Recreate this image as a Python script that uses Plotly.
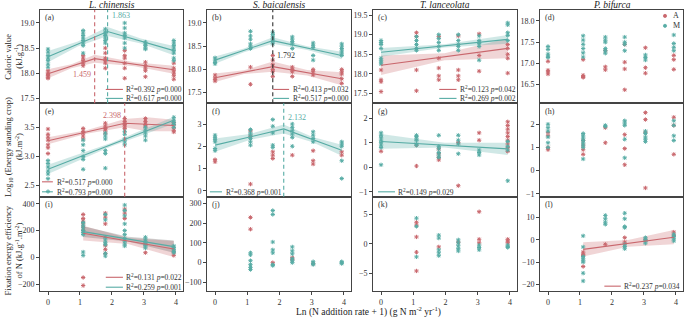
import numpy as np
import plotly.graph_objects as go

# ---------------- data ----------------
LN_N = [0.0, 1.099, 1.792, 2.398, 3.045, 3.932]
X_TICKS = [0, 1, 2, 3, 4]
SPECIES = ["L. chinensis", "S. baicalensis", "T. lanceolata", "P. bifurca"]
PANEL_TAGS = ["(a)", "(b)", "(c)", "(d)", "(e)", "(f)", "(g)", "(h)", "(i)", "(j)", "(k)", "(l)"]
SERIES_NAMES = ["A", "M"]

# Caloric value (kJ/g)
cal_Lc_A = [[18.05, 18.0, 17.98, 17.95, 17.92, 17.9], [18.35, 18.3, 18.25, 18.2, 18.15],
            [18.5, 18.4, 18.3, 18.25, 18.2, 18.1], [18.45, 18.35, 18.3, 18.2, 18.1, 17.9],
            [18.22, 18.15, 18.1, 18.05, 17.93], [18.2, 18.1, 18.05, 18.0, 17.95, 17.88]]
cal_Lc_M = [[18.48, 18.42, 18.35, 18.3, 18.25, 18.18, 18.12], [18.85, 18.8, 18.75, 18.7, 18.65, 18.6, 18.55, 18.4],
            [18.88, 18.82, 18.78, 18.75, 18.7, 18.65, 18.6], [19.0, 18.9, 18.8, 18.75, 18.7, 18.6, 18.5],
            [18.62, 18.58, 18.55, 18.5, 18.48], [18.65, 18.6, 18.55, 18.5, 18.45, 18.4, 18.3, 18.25]]
cal_Sb_A = [[17.88, 17.82, 17.78, 17.75], [18.05, 17.68], [18.3, 18.2, 18.1, 18.0, 17.95, 17.85],
            [18.05, 18.0, 17.95, 17.85], [18.0, 17.95, 17.88], [18.0, 17.95, 17.9, 17.8, 17.7]]
cal_Sb_M = [[18.25, 18.2, 18.15, 18.12], [18.82, 18.72, 18.65, 18.55, 18.5, 18.45],
            [18.8, 18.75, 18.7, 18.65, 18.6, 18.55], [18.7, 18.65, 18.6, 18.55, 18.45],
            [18.57, 18.52, 18.47, 18.3, 18.2], [18.55, 18.5, 18.45, 18.4, 18.35, 18.3]]
cal_Tl_A = [[18.1, 17.85, 17.8, 17.55], [19.05, 18.95, 18.1, 17.57], [18.95, 18.4, 18.15, 17.95, 17.85],
            [18.97, 18.1, 17.95, 17.85], [19.02, 18.47, 18.07], [18.75, 18.65, 18.5, 18.4, 18.02]]
cal_Tl_M = [[18.85, 18.8, 18.75, 18.65, 18.4, 18.35, 18.3, 18.25], [18.95, 18.85, 18.75, 18.65, 18.6],
            [19.0, 18.9, 18.8, 18.7, 18.6], [19.0, 18.85, 18.75, 18.7, 18.6],
            [18.97, 18.85, 18.8, 18.77, 18.7, 18.35], [19.3, 19.25, 19.05, 18.98, 18.85]]
cal_Pb_A = [[17.05, 16.84, 16.8, 16.75], [17.09, 16.72, 16.69, 16.67], [17.3, 16.92, 16.85],
            [17.45, 17.03, 16.87, 16.38], [17.37, 16.9, 16.77], [17.19, 17.09, 16.86]]
cal_Pb_M = [[17.4, 17.33, 17.22, 17.17, 17.14], [17.65, 17.55, 17.45, 17.35, 17.25, 17.15],
            [17.62, 17.55, 17.5, 17.35, 17.3, 17.24], [17.62, 17.5, 17.45, 17.3],
            [17.2, 17.14, 17.08], [17.67, 17.47, 17.38, 17.3]]

# Log10 energy standing crop (kJ/m2)
log_Lc_A = [[3.47, 3.38, 3.33, 3.28, 3.2, 3.15, 3.05], [3.48, 3.43, 3.4, 3.35, 3.3],
            [3.57, 3.52, 3.48, 3.45, 3.4], [3.65, 3.6, 3.55, 3.52, 3.48],
            [3.65, 3.6, 3.55, 3.52], [3.58, 3.55, 3.5, 3.45, 3.42]]
log_Lc_M = [[2.93, 2.88, 2.82, 2.75, 2.7, 2.62, 2.4], [3.28, 3.2, 3.1, 3.0, 2.95, 2.78],
            [3.4, 3.35, 3.3, 3.1, 3.05, 2.8], [3.43, 3.38, 3.3, 3.25, 3.2],
            [3.5, 3.45, 3.4, 3.35, 3.28], [3.67, 3.62, 3.58, 3.55, 3.5]]
log_Sb_A = [[1.4, 1.3], [2.7, 2.45, 0.3], [1.75, 1.6, 1.45], [1.6], [1.8, 1.35, 1.2], [1.75, 1.6]]
log_Sb_M = [[2.5, 2.4, 2.3, 2.2, 1.9, 1.8], [2.75, 2.6, 2.5, 2.35, 2.2, 2.05], [3.2, 2.9, 2.6, 2.05, 1.95],
            [3.0, 2.85, 2.7, 2.55, 2.4, 2.0], [2.65, 2.5, 2.35, 2.2], [2.2, 2.1, 2.0, 1.35, 0.55]]
log_Tl_A = [[0.65], [0.9, 0.05], [0.75, 0.55, 0.4, 0.3], [1.0, -0.75], [1.4, 1.1],
            [1.85, 1.7, 1.55, 1.4, 1.25, 1.1, 0.95, 0.8, 0.65]]
log_Tl_M = [[1.4, 1.3, 1.2, 1.1, 1.0, 0.9, 0.8, 0.1], [1.3, 1.25, 1.15, 1.1, 0.95, 0.9],
            [1.3, 0.85, 0.75, 0.6, 0.5, 0.4], [1.3, 1.1, 0.95, 0.55], [0.7, 0.6, 0.5], [1.05, 0.85, 0.7, -0.55]]
log_Pb_A = [[1.65, 1.5, 1.0, 0.9], [1.3, 1.1, 0.9, 0.7], [1.85, 1.2], [1.55, 0.95, 0.25],
            [2.5, 2.2, 1.65, -0.75], [2.3, 1.95, 0.7]]
log_Pb_M = [[2.0, 1.85, 1.7, 1.45, 1.2, 1.0], [1.6, 1.5, 1.4, 1.3, 1.2, 1.1, 1.0, 0.5], [1.95, 1.9],
            [2.15, 2.05, 1.95, 1.35, 0.55], [1.7, 1.6, 1.45, 1.35, 1.25], [2.15, 1.95, 1.5, 1.3]]

# Fixation energy efficiency of N (kJ g-1 m-2)
eff_Lc_A = [[], [320, 290, 270, 250, 225, 200, -150, -210], [330, 300, 250, 90, 60, 30], [360, 330, 290],
            [100, 35], [40, 15]]
eff_Lc_M = [[], [260, 240, 220, 200, 185, 170, 40, 15], [320, 280, 150, 130, 110, 95, 30, 10],
            [390, 350, 310, 250, 200, 170, 140, 120, 100, 85], [150, 130, 115, 100, 85, 70], [85, 75, 60, 45, 35]]
eff_Sb_A = [[], [230, 170], [0], [25, 15], [-5], []]
eff_Sb_M = [[], [50, 40, 10, -10, -25, -35], [265, 245, 105, 65, 50, -10, -15], [80, 60, 45, 20, 10, 0],
            [5, -5, -10], [5, 0, -5]]
eff_Tl_A = [[], [3.7, 3.2, 1.2, -1.4, -4.6], [-0.5], [0.3], [5.5, 0.8, 0.2], [0.8, 0.5, 0.2]]
eff_Tl_M = [[], [4.4, 3.0, -2.2], [1.5, 1.0, -1.0, -1.5, -2.0], [0.7, 0.2, -0.3, -0.8, -1.2],
            [-0.2, -0.6, -1.0], [-0.2, -0.4, -0.6]]
eff_Pb_A = [[], [-5.5, -6.5, -7, -12], [-2], [1, -1], [0], [3.5, 2]]
eff_Pb_M = [[], [1.8, -3.2, -7.5, -8.5, -9.5, -10, -15, -18.5], [11, 9.5, 8, 7],
            [12, 9.5, 6, 5.5, -2, -3, -4], [1, 0, -0.5, -1.5], [2.5, 1.5, 0.5, -0.5]]

# fitted (segmented) regression lines and confidence half widths
fit_a_A = ([0, 1.459, 3.932], [17.99, 18.29, 18.07]); band_a_A = ([0, 0.73, 1.459, 2.7, 3.932], [0.09, 0.04, 0.08, 0.04, 0.08])
fit_a_M = ([0, 1.863, 3.932], [18.33, 18.83, 18.45]); band_a_M = ([0, 0.93, 1.863, 2.9, 3.932], [0.11, 0.05, 0.09, 0.05, 0.09])
fit_b_A = ([0, 1.792, 3.932], [17.82, 18.06, 17.8]); band_b_A = ([0, 0.9, 1.792, 2.86, 3.932], [0.09, 0.04, 0.11, 0.06, 0.14])
fit_b_M = ([0, 1.792, 3.932], [18.2, 18.62, 18.3]); band_b_M = ([0, 0.9, 1.792, 2.86, 3.932], [0.08, 0.04, 0.07, 0.04, 0.08])
fit_c_A = ([0, 3.932], [18.22, 18.65]); band_c_A = ([0, 1.97, 3.932], [0.25, 0.09, 0.25])
fit_c_M = ([0, 3.932], [18.55, 18.88]); band_c_M = ([0, 1.97, 3.932], [0.11, 0.04, 0.11])
fit_e_A = ([0, 2.398, 3.932], [3.27, 3.57, 3.53]); band_e_A = ([0, 1.2, 2.398, 3.1, 3.932], [0.06, 0.03, 0.07, 0.12, 0.1])
fit_e_M = ([0, 3.932], [2.78, 3.62]); band_e_M = ([0, 1.97, 3.932], [0.08, 0.03, 0.06])
fit_f_M = ([0, 2.132, 3.932], [2.05, 2.78, 1.82]); band_f_M = ([0, 1.07, 2.132, 3.03, 3.932], [0.3, 0.13, 0.2, 0.12, 0.25])
fit_g_M = ([0, 3.932], [1.05, 0.75]); band_g_M = ([0, 1.97, 3.932], [0.3, 0.1, 0.25])
fit_i_A = ([1.099, 3.932], [180, 62]); band_i_A = ([1.099, 2.5, 3.932], [55, 22, 60])
fit_i_M = ([1.099, 3.932], [192, 80]); band_i_M = ([1.099, 2.5, 3.932], [40, 18, 45])
fit_l_A = ([1.099, 3.932], [-4.3, 1.2]); band_l_A = ([1.099, 2.5, 3.932], [3.2, 1.5, 3.2])

breaks = [  # panel index, x, colour key, label y (data), side
    (0, 1.459, "A", 17.97, "left"), (0, 1.863, "M", 19.14, "right"),
    (1, 1.792, "K", 18.31, "right"), (4, 2.398, "A", 3.70, "left"), (5, 2.132, "M", 3.31, "right")]

stats = {
    0: [("A", "R<sup>2</sup>=0.392 <i>p</i>=0.000"), ("M", "R<sup>2</sup>=0.617 <i>p</i>=0.000")],
    1: [("A", "R<sup>2</sup>=0.413 <i>p</i>=0.032"), ("M", "R<sup>2</sup>=0.517 <i>p</i>=0.000")],
    2: [("A", "R<sup>2</sup>=0.123 <i>p</i>=0.042"), ("M", "R<sup>2</sup>=0.269 <i>p</i>=0.002")],
    4: [("A", "R<sup>2</sup>=0.517 <i>p</i>=0.000"), ("M", "R<sup>2</sup>=0.793 <i>p</i>=0.000")],
    5: [("M", "R<sup>2</sup>=0.368 <i>p</i>=0.001")],
    6: [("M", "R<sup>2</sup>=0.149 <i>p</i>=0.029")],
    8: [("A", "R<sup>2</sup>=0.131 <i>p</i>=0.022"), ("M", "R<sup>2</sup>=0.259 <i>p</i>=0.001")],
    11: [("A", "R<sup>2</sup>=0.237 <i>p</i>=0.034")],
}

# ---------------- style ----------------
COL = {"A": "#c9676d", "M": "#57aca5", "K": "#333333"}
FILL = {"A": "rgba(201,103,109,0.28)", "M": "rgba(87,172,165,0.28)", "G": "rgba(110,110,110,0.32)"}
FONT = "Liberation Serif"
W, H = 685, 320
COLS = [(40, 183), (207, 351), (373, 517), (540, 683)]
ROWS = [(10, 104), (104, 198), (198, 293)]
YTITLE_CENTERS = [57, 148, 252]

panels = [
    (cal_Lc_A, cal_Lc_M, [17.40, 19.26], [17.5, 18.0, 18.5, 19.0], ".1f"),
    (cal_Sb_A, cal_Sb_M, [17.27, 19.28], [17.5, 18.0, 18.5, 19.0], ".1f"),
    (cal_Tl_A, cal_Tl_M, [17.25, 19.63], [17.5, 18.0, 18.5, 19.0, 19.5], ".1f"),
    (cal_Pb_A, cal_Pb_M, [16.06, 18.26], [16.5, 17.0, 17.5, 18.0], ".1f"),
    (log_Lc_A, log_Lc_M, [2.31, 3.91], [2.5, 3.0, 3.5], ".1f"),
    (log_Sb_A, log_Sb_M, [-0.27, 3.93], [0, 1, 2, 3], "d"),
    (log_Tl_A, log_Tl_M, [-1.2, 2.6], [-1, 0, 1, 2], "d"),
    (log_Pb_A, log_Pb_M, [-1.13, 2.9], [-1, 0, 1, 2], "d"),
    (eff_Lc_A, eff_Lc_M, [-252, 452], [-200, 0, 200, 400], "d"),
    (eff_Sb_A, eff_Sb_M, [-145, 335], [-100, 0, 100, 200, 300], "d"),
    (eff_Tl_A, eff_Tl_M, [-8.05, 8.05], [-5, 0, 5], "d"),
    (eff_Pb_A, eff_Pb_M, [-23.1, 19.4], [-20, -10, 0, 10], "d"),
]

fits = [(0, fit_a_A, band_a_A, "A", "A"), (0, fit_a_M, band_a_M, "M", "M"),
        (1, fit_b_A, band_b_A, "A", "A"), (1, fit_b_M, band_b_M, "M", "M"),
        (2, fit_c_A, band_c_A, "A", "A"), (2, fit_c_M, band_c_M, "M", "M"),
        (4, fit_e_A, band_e_A, "A", "A"), (4, fit_e_M, band_e_M, "M", "M"),
        (5, fit_f_M, band_f_M, "M", "M"), (6, fit_g_M, band_g_M, "M", "M"),
        (8, fit_i_A, band_i_A, "A", "A"), (8, fit_i_M, band_i_M, "M", "G"),
        (11, fit_l_A, band_l_A, "A", "A")]

legend_pos = {0: (0.46, 0.58, 0.59, [0.149, 0.053]), 1: (0.46, 0.57, 0.58, [0.149, 0.053]),
              2: (0.46, 0.58, 0.59, [0.149, 0.053]), 4: (0.014, 0.09, 0.105, [0.16, 0.053]),
              5: (0.02, 0.104, 0.118, [0.053]), 6: (0.035, 0.153, 0.163, [0.053]),
              8: (0.46, 0.58, 0.59, [0.147, 0.042]), 11: (0.45, 0.565, 0.573, [0.053])}


def ax_names(p):
    k = p + 1
    s = "" if k == 1 else str(k)
    return "x" + s, "y" + s, "xaxis" + s, "yaxis" + s


fig = go.Figure()
layout = dict(width=W, height=H, margin=dict(l=0, r=0, t=0, b=0), paper_bgcolor="white",
              plot_bgcolor="white", font=dict(family=FONT, size=8, color="#333333"),
              showlegend=False)
shapes, annotations = [], []

for p, (dA, dM, yr, yt, fmt) in enumerate(panels):
    row, col = divmod(p, 4)
    xr, yrf, xa, ya = ax_names(p)
    l, r = COLS[col]
    t, b = ROWS[row]
    bottom = row == 2
    layout[xa] = dict(domain=[l / W, r / W], range=[-0.25, 4.22], anchor=yrf, showgrid=False, zeroline=False,
                      showline=True, mirror=True, linecolor="#444444", linewidth=1,
                      ticks="outside" if bottom else "", ticklen=3, tickcolor="#444444",
                      tickvals=X_TICKS, showticklabels=bottom, tickfont=dict(size=8, family=FONT, color="#333"))
    layout[ya] = dict(domain=[1 - b / H, 1 - t / H], range=yr, anchor=xr, showgrid=False, zeroline=False,
                      showline=True, mirror=True, linecolor="#444444", linewidth=1,
                      ticks="outside", ticklen=3, tickcolor="#444444", tickvals=yt,
                      tickformat=fmt, tickfont=dict(size=8, family=FONT, color="#333"))
    annotations.append(dict(text=PANEL_TAGS[p], xref=xr + " domain", yref=yrf + " domain", x=0.02, y=0.985,
                            xanchor="left", yanchor="top", showarrow=False, font=dict(size=8, family=FONT)))

# bands
for p, (lx, ly), (bx, bhw), ck, fk in fits:
    xr, yrf, _, _ = ax_names(p)
    xs = np.array(sorted(set(lx) | set(bx)))
    yc = np.interp(xs, lx, ly)
    hw = np.interp(xs, bx, bhw)
    fig.add_trace(go.Scatter(x=list(xs) + list(xs[::-1]), y=list(yc + hw) + list((yc - hw)[::-1]),
                             fill="toself", fillcolor=FILL[fk], line=dict(width=0), mode="lines",
                             hoverinfo="skip", showlegend=False, xaxis=xr, yaxis=yrf))

# points
for p, (dA, dM, yr, yt, fmt) in enumerate(panels):
    xr, yrf, _, _ = ax_names(p)
    for name, data in zip(SERIES_NAMES, (dA, dM)):
        xs, ys = [], []
        for g, vals in enumerate(data):
            xs += [LN_N[g]] * len(vals)
            ys += vals
        fig.add_trace(go.Scatter(x=xs, y=ys, mode="markers", name=name, xaxis=xr, yaxis=yrf,
                                 marker=dict(symbol="asterisk-open", size=3.6, color=COL[name],
                                             line=dict(color=COL[name], width=1.0)),
                                 showlegend=False))

# fitted lines
for p, (lx, ly), (bx, bhw), ck, fk in fits:
    xr, yrf, _, _ = ax_names(p)
    fig.add_trace(go.Scatter(x=lx, y=ly, mode="lines", line=dict(color=COL[ck], width=1.1),
                             showlegend=False, hoverinfo="skip", xaxis=xr, yaxis=yrf))

# breakpoints
for p, bx, ck, ly, side in breaks:
    xr, yrf, _, _ = ax_names(p)
    shapes.append(dict(type="line", xref=xr, yref=yrf + " domain", x0=bx, x1=bx, y0=0, y1=1,
                       line=dict(color=COL[ck], width=1.1, dash="4px,3px")))
    annotations.append(dict(text=f"{bx:.3f}", xref=xr, yref=yrf, x=bx, y=ly, showarrow=False,
                            xanchor="right" if side == "left" else "left", xshift=-2 if side == "left" else 2,
                            yanchor="middle", font=dict(size=8, family=FONT, color=COL[ck])))

# R2 legends
for p, items in stats.items():
    xr, yrf, _, _ = ax_names(p)
    x0, x1, xt, ys = legend_pos[p]
    for (ck, txt), yy in zip(items, ys):
        shapes.append(dict(type="line", xref=xr + " domain", yref=yrf + " domain", x0=x0, x1=x1, y0=yy, y1=yy,
                           line=dict(color=COL[ck], width=1.1)))
        annotations.append(dict(text=txt, xref=xr + " domain", yref=yrf + " domain", x=xt, y=yy,
                                xanchor="left", yanchor="middle", showarrow=False,
                                font=dict(size=7.5, family=FONT, color="#333")))

# group key (A / M) in panel (d)
for name, ypx in zip(SERIES_NAMES, (16, 26)):
    cx, cy, rr = 665, ypx, 1.6
    shapes.append(dict(type="circle", xref="paper", yref="paper", x0=(cx - rr) / W, x1=(cx + rr) / W,
                       y0=1 - (cy + rr) / H, y1=1 - (cy - rr) / H, fillcolor=COL[name],
                       line=dict(color=COL[name], width=0.8)))
    annotations.append(dict(text=name, xref="paper", yref="paper", x=671 / W, y=1 - cy / H,
                            xanchor="left", yanchor="middle", showarrow=False,
                            font=dict(size=8, family=FONT, color="#333")))

# column titles
for c, sp in enumerate(SPECIES):
    l, r = COLS[c]
    annotations.append(dict(text=f"<i>{sp}</i>", xref="paper", yref="paper", x=(l + r) / 2 / W, y=1 - 5 / H,
                            xanchor="center", yanchor="middle", showarrow=False,
                            font=dict(size=9.5, family=FONT, color="#222")))

# y-axis titles
ytitles = [("Caloric value", "(kJ.g<sup>-1</sup>)"),
           ("Log<sub>10</sub> (Energy standing crop)", "(kJ.m<sup>-2</sup>)"),
           ("Fixation energy efficiency", "of N (kJ.g<sup>-1</sup>.m<sup>-2</sup>)")]
for r_i, (t1, t2) in enumerate(ytitles):
    yc = 1 - YTITLE_CENTERS[r_i] / H
    annotations.append(dict(text=t1, xref="paper", yref="paper", x=8 / W, y=yc, textangle=-90,
                            xanchor="center", yanchor="middle", showarrow=False,
                            font=dict(size=8.5, family=FONT, color="#222")))
    annotations.append(dict(text=t2, xref="paper", yref="paper", x=19 / W, y=yc, textangle=-90,
                            xanchor="center", yanchor="middle", showarrow=False,
                            font=dict(size=8.5, family=FONT, color="#222")))

annotations.append(dict(text="Ln (N addition rate + 1) (g N m<sup>-2</sup> yr<sup>-1</sup>)", xref="paper",
                        yref="paper", x=368 / W, y=1 - 313 / H, xanchor="center", yanchor="middle",
                        showarrow=False, font=dict(size=9.5, family=FONT, color="#222")))

layout["shapes"] = shapes
layout["annotations"] = annotations
fig.update_layout(**layout)
fig.write_html("out.html", config={"displayModeBar": False},
               post_script="document.body.style.margin='0px';document.body.style.padding='0px';")
